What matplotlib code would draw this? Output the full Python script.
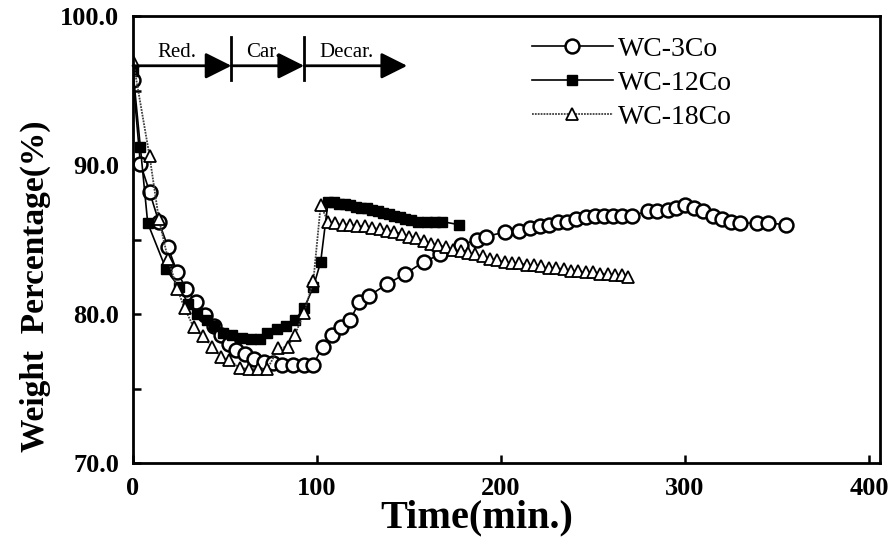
import numpy as np
import matplotlib
matplotlib.use("Agg")
import matplotlib.pyplot as plt

plt.rcParams['font.family'] = ['Liberation Serif', 'DejaVu Serif']

# WC-3Co (open circles)
t_3co = [0, 4, 9, 14, 19, 24, 29, 34, 39, 44, 48, 52, 56, 61, 66, 71, 76, 81, 87, 93,
         98, 103, 108, 113, 118, 123, 128, 138, 148, 158, 167, 178, 187, 192, 202, 210,
         216, 221, 226, 231, 236, 241, 246, 251, 256, 261, 266, 271, 280, 285, 291, 295,
         300, 305, 310, 315, 320, 325, 330, 339, 345, 355]
w_3co = [95.7, 90.1, 88.2, 86.2, 84.5, 82.8, 81.7, 80.8, 79.9, 79.2, 78.6, 78.0, 77.6,
         77.3, 77.0, 76.8, 76.7, 76.6, 76.6, 76.6, 76.6, 77.8, 78.6, 79.1, 79.6, 80.8,
         81.2, 82.0, 82.7, 83.5, 84.0, 84.6, 85.0, 85.2, 85.5, 85.6, 85.8, 85.9, 86.0,
         86.2, 86.2, 86.4, 86.5, 86.6, 86.6, 86.6, 86.6, 86.6, 86.9, 86.9, 87.0, 87.1,
         87.3, 87.1, 86.9, 86.6, 86.4, 86.2, 86.1, 86.1, 86.1, 86.0]

# WC-12Co (filled squares)
t_12co = [0, 4, 8, 18, 25, 30, 35, 40, 44, 49, 54, 59, 64, 69, 73, 78, 83, 88, 93, 98,
          102, 106, 109, 112, 115, 118, 121, 124, 127, 130, 133, 136, 139, 142, 145, 148,
          151, 155, 160, 164, 168, 177]
w_12co = [96.3, 91.2, 86.1, 83.0, 81.8, 80.7, 80.0, 79.6, 79.2, 78.7, 78.6, 78.4, 78.3,
          78.3, 78.7, 79.0, 79.2, 79.6, 80.4, 81.8, 83.5, 87.5, 87.5, 87.4, 87.4, 87.3,
          87.2, 87.1, 87.1, 87.0, 86.9, 86.8, 86.7, 86.6, 86.5, 86.4, 86.3, 86.2, 86.2,
          86.2, 86.2, 86.0]

# WC-18Co (open triangles)
t_18co = [0, 9, 14, 19, 24, 28, 33, 38, 43, 48, 52, 58, 63, 68, 73, 79, 84, 88, 93, 98,
          102, 106, 110, 114, 118, 122, 126, 130, 134, 138, 142, 146, 150, 154, 158, 162,
          166, 170, 174, 178, 182, 186, 190, 194, 198, 202, 206, 210, 214, 218, 222, 226,
          230, 234, 238, 242, 246, 250, 254, 258, 262, 266, 269]
w_18co = [97.0, 90.6, 86.4, 83.7, 81.7, 80.4, 79.1, 78.5, 77.8, 77.1, 76.9, 76.4, 76.3,
          76.3, 76.3, 77.7, 77.8, 78.6, 80.1, 82.2, 87.3, 86.2, 86.1, 86.0, 86.0, 85.9,
          85.9, 85.8, 85.7, 85.6, 85.5, 85.4, 85.2, 85.1, 84.9, 84.7, 84.6, 84.5, 84.3,
          84.2, 84.1, 84.0, 83.9, 83.7, 83.6, 83.5, 83.4, 83.4, 83.3, 83.3, 83.2, 83.1,
          83.1, 83.0, 82.9, 82.9, 82.8, 82.8, 82.7, 82.7, 82.6, 82.6, 82.5]

# stage boundaries (min) and labels
stage_ends = [53.5, 93, 149]
stage_labels = ["Red.", "Car.", "Decar."]
stage_label_x = [24, 71, 116]

fig = plt.figure(figsize=(8.9, 5.49), dpi=100)
ax = fig.add_axes([133/890, 1-463/549, 747/890, 447/549])

ax.plot(t_3co, w_3co, '-', color='black', lw=1.2, marker='o', ms=10,
        mfc='white', mec='black', mew=1.8, label='WC-3Co')
ax.plot(t_12co, w_12co, '-', color='black', lw=1.2, marker='s', ms=7,
        mfc='black', mec='black', label='WC-12Co')
ax.plot(t_18co, w_18co, linestyle=(0, (1, 0.6)), color='0.25', lw=1.3, marker='^', ms=9,
        mfc='white', mec='black', mew=1.3, label='WC-18Co')

# stage arrows
y_arr = 96.66
starts = [0] + stage_ends[:-1]
for x0, x1 in zip(starts, stage_ends):
    ax.annotate('', xy=(x1, y_arr), xytext=(x0, y_arr),
                arrowprops=dict(arrowstyle='-|>,head_length=0.8,head_width=0.4',
                                mutation_scale=20, color='black', lw=2,
                                shrinkA=0, shrinkB=0))
for xb in stage_ends[:-1]:
    ax.plot([xb, xb], [95.7, 98.6], color='black', lw=2)
for xl, lab in zip(stage_label_x, stage_labels):
    ax.text(xl, 97.25, lab, ha='center', va='baseline', fontsize=15)

ax.set_xlim(0, 406)
ax.set_ylim(70, 100)
ax.set_xticks([0, 100, 200, 300, 400])
ax.set_yticks([70, 80, 90, 100])
ax.set_yticks([75, 85, 95], minor=True)
ax.set_yticklabels(['70.0', '80.0', '90.0', '100.0'])
ax.tick_params(direction='in', length=6, width=1.8, labelsize=19, pad=10)
ax.tick_params(which='minor', direction='in', length=6, width=1.8)
for lab in ax.get_xticklabels() + ax.get_yticklabels():
    lab.set_fontweight('bold')
for sp in ax.spines.values():
    sp.set_linewidth(2)

ax.set_xlabel('Time(min.)', fontsize=29, fontweight='bold')
ax.set_ylabel('Weight  Percentage(%)', fontsize=24, fontweight='bold')
ax.xaxis.set_label_coords(0.46, -0.082)
ax.yaxis.set_label_coords(-0.11, 0.395)

ax.legend(loc='upper left', bbox_to_anchor=(374/747, 1.01), frameon=False, fontsize=20,
          handlelength=2.9, handletextpad=0.2, labelspacing=0.3, borderpad=0.4)

fig.savefig('out.png', dpi=100)
